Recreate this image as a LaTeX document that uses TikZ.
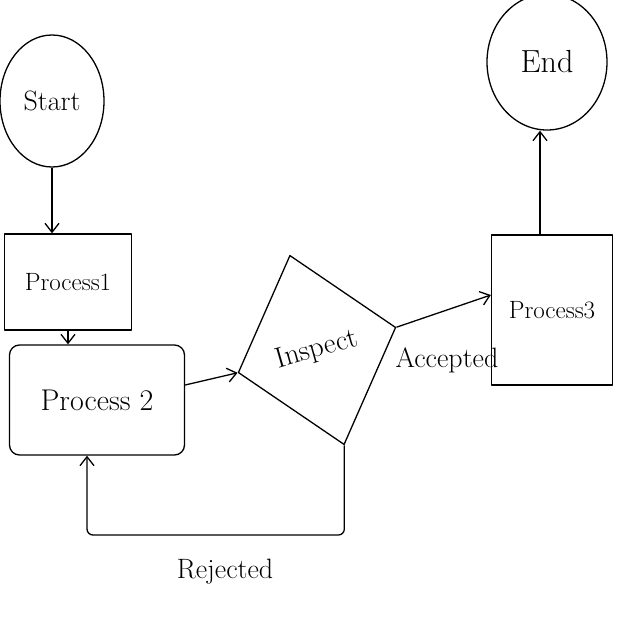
\documentclass[tikz,border=0pt]{standalone}
\usetikzlibrary{shapes.geometric,arrows.meta}
\begin{document}
\begin{tikzpicture}[x=1pt,y=-1pt,line width=1.3pt,line join=round,
  every node/.style={inner sep=0pt},
  term/.style={draw,ellipse},
  proc/.style={draw,rectangle},
  arr/.style={-{Straight Barb[length=9pt,width=14pt]}},
  big/.style={font=\fontsize{28}{30}\selectfont}]
\useasboundingbox (0,0) rectangle (640,640);
\node[term,minimum width=104pt,minimum height=132pt,big] (start) at (52,101) {Start};
\node[proc,minimum width=127pt,minimum height=96pt,font=\fontsize{25}{27}\selectfont] (p1) at (68,282) {Process1};
\node[proc,rounded corners=10pt,minimum width=175pt,minimum height=110pt,font=\fontsize{30}{32}\selectfont] (p2) at (97,400) {Process 2};
\node[draw,diamond,minimum width=164pt,minimum height=197pt,rotate=16,font=\fontsize{29}{31}\selectfont] (insp) at (317,350) {Inspect};
\node[proc,minimum width=121pt,minimum height=150pt,font=\fontsize{25}{27}\selectfont] (p3) at (552,310) {Process3};
\node[term,minimum width=120pt,minimum height=136pt,font=\fontsize{32}{34}\selectfont] (end) at (547,62) {End};
\node[big] (acc) at (447,360) {Accepted};
\node[big] (rej) at (225,572) {Rejected};
\coordinate (rj) at (0,535);
\draw[arr] (start.south) -- (start.south |- p1.north);
\draw[arr] (p1.south) -- (p1.south |- p2.north);
\draw[arr] ([yshift=15pt]p2.east) -- (insp.west);
\draw[arr] (insp.east) -- ([yshift=15pt]p3.west);
\draw[arr] ([xshift=-12pt]p3.north) -- ([xshift=-12pt]p3.north |- end.south);
\draw[arr,rounded corners=6pt] (insp.south) |- ([xshift=-10pt]p2.south |- rj) -- ([xshift=-10pt]p2.south);
\end{tikzpicture}
\end{document}
